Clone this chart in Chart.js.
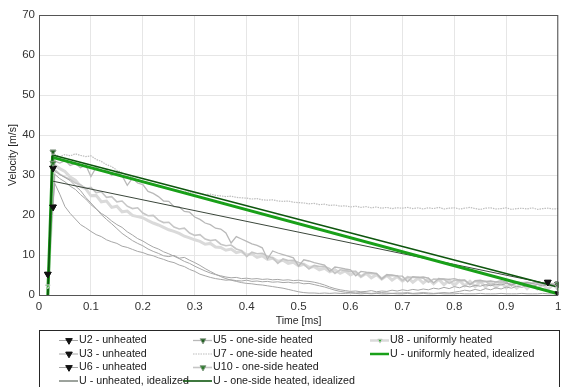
<!DOCTYPE html>
<html>
<head>
<meta charset="utf-8">
<script src="https://cdn.jsdelivr.net/npm/chart.js@4.4.0/dist/chart.umd.min.js"></script>
<style>
  html, body { margin: 0; padding: 0; background: #fff; }
  #wrap { width: 563px; height: 387px; position: relative; }
</style>
</head>
<body>
<div id="wrap"><canvas id="velChart"></canvas></div>
<script>
// === Datos ===
const TIME_MS = [
  0.03,0.04,0.05,0.06,0.07,0.08,0.09,0.10,0.11,0.12,
  0.13,0.14,0.15,0.16,0.17,0.18,0.19,0.20,0.21,0.22,
  0.23,0.24,0.25,0.26,0.27,0.28,0.29,0.30,0.31,0.32,
  0.33,0.34,0.35,0.36,0.37,0.38,0.39,0.40,0.41,0.42,
  0.43,0.44,0.45,0.46,0.47,0.48,0.49,0.50,0.51,0.52,
  0.53,0.54,0.55,0.56,0.57,0.58,0.59,0.60,0.61,0.62,
  0.63,0.64,0.65,0.66,0.67,0.68,0.69,0.70,0.71,0.72,
  0.73,0.74,0.75,0.76,0.77,0.78,0.79,0.80,0.81,0.82,
  0.83,0.84,0.85,0.86,0.87,0.88,0.89,0.90,0.91,0.92,
  0.93,0.94,0.95,0.96,0.97,0.98,0.99,1.00
];

// first sample (on the rise) for each measured run: [time, velocity]
const U2_START = [0.017, 5.2];
const U3_START = [0.027, 22.0];
const U6_START = [0.027, 31.7];
const U5_START = [0.027, 35.8];
const U10_START = [0.027, 33.0];
const U8_START = [0.017, 2.2];

const U2 = [
  28.0,25.2,22.1,20.4,19.0,17.6,16.8,15.9,15.1,14.6,
  13.8,13.3,12.9,12.2,11.9,11.4,10.9,10.6,10.1,9.8,
  9.3,8.9,8.4,8.1,7.5,7.1,6.4,5.9,5.2,4.8,
  4.4,4.1,3.9,3.7,3.8,3.6,3.5,3.7,3.4,3.5,
  3.3,3.4,3.2,3.3,3.1,3.2,3.0,3.1,2.8,2.9,
  2.6,2.3,2.0,1.6,1.2,0.9,0.7,0.6,0.5,0.6,
  0.5,0.4,0.5,0.6,0.5,0.4,0.5,0.5,0.6,0.4,
  0.5,0.6,0.5,0.4,0.5,0.6,0.5,0.7,0.9,1.2,
  1.0,1.4,1.1,1.6,1.3,1.8,1.5,2.0,1.7,2.2,
  1.9,2.4,2.1,2.6,2.3,2.5,2.6,2.7
];
const U3 = [
  30.2,29.1,28.3,27.2,26.4,25.1,24.0,22.6,21.5,20.4,
  19.6,18.5,17.6,16.9,15.8,15.0,14.1,13.5,12.7,12.0,
  11.5,10.8,10.3,9.7,9.1,8.4,7.9,7.2,6.6,6.0,
  5.5,5.1,4.8,4.5,4.3,4.4,4.1,4.2,4.0,4.1,
  3.9,4.0,3.8,3.9,3.7,3.8,3.6,3.7,3.5,3.4,
  3.2,2.9,2.5,2.0,1.6,1.3,1.1,0.9,1.0,0.8,
  0.9,1.1,0.8,1.0,0.9,1.2,1.0,1.3,1.1,1.4,
  1.2,1.5,1.3,1.7,1.5,1.9,1.6,2.1,1.8,2.3,
  2.0,2.4,2.2,2.6,2.3,2.7,2.5,2.9,2.6,3.0,
  2.8,3.1,2.9,3.2,3.0,3.2
];
const U6 = [
  31.0,30.1,29.4,28.6,27.3,26.1,24.4,23.0,21.6,20.1,
  18.9,17.8,16.6,15.4,14.5,13.6,12.9,12.3,11.5,10.9,
  10.4,9.8,9.6,9.9,9.2,9.4,8.7,8.1,7.4,6.6,
  5.9,5.2,4.6,4.1,3.7,3.4,3.1,2.9,2.8,2.6,
  2.5,2.3,2.1,1.9,1.7,1.4,1.1,0.8,0.6,0.5,
  0.5,0.4,0.5,0.4,0.5,0.4,0.4,0.5,0.4,0.3,
  0.4,0.3,0.4,0.3,0.3,0.4,0.3,0.3,0.4,0.3,
  0.3,0.4,0.3,0.3,0.4,0.3,0.3,0.3,0.4,0.3,
  0.3,0.3,0.4,0.3,0.3,0.3,0.4,0.3,0.3,0.3,
  0.4,0.3,0.3,0.3,0.4,0.3,0.3,0.3
];
const U5 = [
  33.5,33.0,33.6,32.4,32.9,31.8,32.5,29.6,31.9,31.0,
  31.3,29.9,30.6,29.8,27.4,29.2,28.0,27.6,25.9,25.4,
  24.6,23.5,23.4,22.1,22.0,20.9,20.7,19.5,18.9,18.0,
  17.6,16.7,16.5,15.5,13.0,14.6,14.0,13.4,12.8,12.4,
  11.8,9.0,11.0,10.5,10.1,9.7,9.3,7.2,8.8,8.5,
  8.1,7.8,7.5,5.9,7.0,6.8,6.5,6.3,4.8,5.9,
  5.7,5.6,5.4,4.0,5.1,5.0,4.8,4.7,3.3,4.6,
  4.4,4.5,4.2,3.0,4.1,4.0,3.9,4.1,3.7,3.8,
  2.6,3.6,3.7,3.4,3.5,3.3,3.6,3.2,2.3,3.3,
  3.1,3.2,2.9,3.1,2.8,3.0,2.7,2.8
];
const U7 = [
  35.2,34.6,35.1,34.8,35.3,34.9,34.6,34.8,33.9,33.4,
  32.6,32.1,31.2,30.6,29.9,29.4,28.7,28.3,27.8,27.6,
  27.1,26.9,26.5,26.3,26.1,25.8,25.7,25.5,25.4,25.1,
  25.2,24.9,24.8,24.6,24.7,24.4,24.3,24.2,24.0,24.1,
  23.8,23.7,23.8,23.5,23.4,23.5,23.2,23.1,23.0,22.8,
  22.9,22.6,22.7,22.4,22.5,22.2,22.3,22.0,22.2,21.9,
  22.1,21.8,22.0,21.7,21.9,21.6,21.8,21.7,21.9,21.6,
  21.8,21.5,21.8,21.6,21.9,21.5,21.7,21.8,21.5,21.7,
  21.9,21.6,21.4,21.7,21.8,21.5,21.6,21.8,21.4,21.6,
  21.7,21.5,21.8,21.4,21.6,21.7,21.5,21.6
];
const U10 = [
  31.4,30.2,29.5,28.9,28.0,27.6,26.6,26.9,25.6,25.8,
  24.4,24.6,23.3,23.5,22.2,21.6,21.8,20.5,19.8,19.9,
  18.7,18.1,18.2,17.0,16.5,16.7,15.5,14.9,15.1,14.0,
  13.6,13.8,12.7,12.3,12.5,11.5,11.1,9.6,10.7,10.3,
  10.4,9.7,9.3,7.9,9.0,8.6,8.7,8.1,7.7,6.5,
  7.4,7.1,7.2,6.6,5.4,6.3,6.1,5.9,5.9,4.6,
  5.5,5.3,5.3,4.0,4.9,4.8,4.8,3.6,4.5,4.4,
  4.4,4.2,3.2,4.0,3.9,3.9,2.9,3.7,3.6,3.6,
  2.6,3.4,3.3,3.4,2.5,3.2,3.1,3.2,2.3,3.0,
  2.9,3.0,2.2,2.8,2.7,2.8,2.6,2.7
];
const U8 = [
  32.5,31.6,30.9,29.5,28.7,27.2,26.6,24.8,24.9,23.3,
  23.5,21.9,22.2,20.8,21.0,19.9,19.6,19.3,18.6,18.0,
  17.5,16.9,16.3,15.9,15.4,14.7,14.3,13.8,13.4,12.7,
  12.9,12.0,11.9,11.2,11.5,10.6,10.9,10.0,10.3,9.4,
  9.8,8.9,9.2,8.4,8.7,7.9,8.2,7.3,7.7,6.9,
  7.1,6.3,6.7,5.8,6.3,5.4,6.0,5.0,5.7,4.6,
  5.4,4.3,5.1,4.0,4.9,3.7,4.6,3.5,4.4,3.2,
  4.2,3.0,4.0,2.8,3.9,2.6,3.7,2.4,3.6,2.3,
  3.4,2.1,3.3,2.0,3.2,1.9,3.1,1.8,3.0,1.7,
  2.9,1.6,2.8,1.5,2.7,1.4,2.6,1.5
];

// idealized profiles: corner points
const IDEAL_UNH_T = [0.017, 0.025, 0.976];
const IDEAL_UNH_V = [0, 28.5, 2.9];
const IDEAL_ONE_T = [0.017, 0.026, 0.995];
const IDEAL_ONE_V = [0, 35.0, 2.1];
const IDEAL_UNI_T = [0.017, 0.026, 1.0];
const IDEAL_UNI_V = [0, 34.4, 0.3];

const X_MIN = 0, X_MAX = 1, X_STEP = 0.1;
const Y_MIN = 0, Y_MAX = 70, Y_STEP = 10;

// === Helpers ===
const FONT = '"Liberation Sans", Arial, sans-serif';
const pts = (ts, vs) => vs.map((v, i) => ({ x: ts[i], y: v }));
const run = (start, vs) => [{ x: start[0], y: start[1] }].concat(pts(TIME_MS, vs));
const endMarks = (r) => (c) => (c.dataIndex === 0 || c.dataIndex === c.dataset.data.length - 1) ? r : 0;

function measured(label, data, o) {
  return {
    label, data, order: o.order,
    borderColor: o.line, borderWidth: o.width, borderDash: o.dash || [],
    pointStyle: 'triangle', rotation: 180,
    pointRadius: o.marker ? endMarks(o.r) : 0,
    pointBackgroundColor: o.marker, pointBorderColor: o.mborder || o.marker,
    pointBorderWidth: 1, pointHoverRadius: 0,
    hasMarker: !!o.marker, markerR: o.r, tension: 0
  };
}
function ideal(label, data, color, width, order) {
  return { label, data, order, borderColor: color, borderWidth: width,
           pointRadius: 0, pointHoverRadius: 0, tension: 0 };
}

// legend order (column-major, 4 rows)
const datasets = [
  measured('U2 - unheated', run(U2_START, U2), { line: '#a6a6a6', width: 1, marker: '#111111', r: 3.8, order: 3 }),
  measured('U3 - unheated', run(U3_START, U3), { line: '#a6a6a6', width: 1, marker: '#111111', r: 3.8, order: 4 }),
  measured('U6 - unheated', run(U6_START, U6), { line: '#a6a6a6', width: 1, marker: '#111111', r: 3.8, order: 5 }),
  ideal('U - unheated, idealized', pts(IDEAL_UNH_T, IDEAL_UNH_V), '#3a463a', 1, 2),
  measured('U5 - one-side heated', run(U5_START, U5), { line: '#b9b9b9', width: 1.3, marker: '#1f5f1f', mborder: '#8f9f8f', r: 3.4, order: 6 }),
  measured('U7 - one-side heated', pts(TIME_MS, U7), { line: '#bdbdbd', width: 1.2, dash: [1.5, 1], order: 8 }),
  measured('U10 - one-side heated', run(U10_START, U10), { line: '#c6c6c6', width: 1.6, marker: '#2b7a2b', mborder: '#7f9a7f', r: 3.4, order: 7 }),
  ideal('U - one-side heated, idealized', pts(IDEAL_ONE_T, IDEAL_ONE_V), '#0e560e', 1.6, 0),
  measured('U8 - uniformly heated', run(U8_START, U8), { line: '#dadada', width: 3, marker: '#37b337', mborder: '#cfcfcf', r: 2.6, order: 9 }),
  ideal('U - uniformly heated, idealized', pts(IDEAL_UNI_T, IDEAL_UNI_V), '#19a019', 3, 1)
];

// markers on top + box + legend
const boxAndLegend = {
  id: 'boxAndLegend',
  afterDatasetsDraw(chart) {
    const { ctx, chartArea: a } = chart;
    ctx.save();
    ctx.beginPath();
    ctx.rect(a.left, a.top, a.right - a.left, a.bottom - a.top);
    ctx.clip();
    chart.data.datasets.forEach((ds, i) => {
      if (!ds.hasMarker) return;
      chart.getDatasetMeta(i).data.forEach(p => p.draw(ctx, a));
    });
    ctx.restore();
    ctx.save();
    ctx.strokeStyle = '#555';
    ctx.lineWidth = 1;
    ctx.strokeRect(a.left + 0.5, a.top + 0.5, a.right - a.left - 1, a.bottom - a.top);
    ctx.restore();
  },
  afterDraw(chart) {
    const ctx = chart.ctx;
    const rowsY = [340.5, 354, 367.5, 381];
    const colX = [59, 193, 370];
    ctx.save();
    ctx.fillStyle = '#fff';
    ctx.fillRect(39, 330.5, 520, 70);
    ctx.strokeStyle = '#262626';
    ctx.lineWidth = 1;
    ctx.strokeRect(39.5, 330.5, 520, 70);
    ctx.font = '10.7px ' + FONT;
    ctx.textBaseline = 'middle';
    chart.data.datasets.forEach((ds, k) => {
      const col = Math.floor(k / 4), row = k % 4;
      const y = rowsY[row];
      const x0 = (col === 1 && row === 3) ? 183 : colX[col];
      const x1 = colX[col] + 19;
      ctx.strokeStyle = ds.borderColor;
      ctx.lineWidth = Math.min(ds.borderWidth, 2.5);
      ctx.setLineDash(ds.borderDash || []);
      ctx.beginPath(); ctx.moveTo(x0, y); ctx.lineTo(x1, y); ctx.stroke();
      ctx.setLineDash([]);
      if (ds.hasMarker) {
        ctx.fillStyle = ds.pointBackgroundColor;
        ctx.strokeStyle = ds.pointBorderColor;
        ctx.lineWidth = 1;
        Chart.helpers.drawPoint(ctx, { pointStyle: 'triangle', rotation: 180, radius: ds.markerR, borderWidth: 1 }, colX[col] + 10, y);
      }
      ctx.fillStyle = '#1a1a1a';
      ctx.fillText(ds.label, x1 + 1, y);
    });
    ctx.restore();
  }
};

new Chart(document.getElementById('velChart'), {
  type: 'line',
  data: { datasets },
  options: {
    responsive: true,
    maintainAspectRatio: false,
    animation: false,
    devicePixelRatio: 1,
    events: [],
    layout: { padding: { top: 15, right: 2, bottom: 56, left: 0 } },
    plugins: { legend: { display: false }, tooltip: { enabled: false } },
    scales: {
      x: {
        type: 'linear', min: X_MIN, max: X_MAX,
        grid: { color: '#e6e6e6', drawTicks: false },
        border: { display: false },
        ticks: { stepSize: X_STEP, autoSkip: false, maxRotation: 0, padding: 5,
                 color: '#333', font: { family: FONT, size: 11.5 },
                 callback: (v) => String(Math.round(v * 10) / 10) },
        title: { display: true, text: 'Time [ms]', color: '#262626',
                 font: { family: FONT, size: 10.5 }, padding: { top: 0, bottom: 4 } },
        afterFit: (s) => { s.height = 36; s.paddingLeft = 0; s.paddingRight = 0; }
      },
      y: {
        min: Y_MIN, max: Y_MAX,
        grid: { color: '#e6e6e6', drawTicks: false },
        border: { display: false },
        ticks: { stepSize: Y_STEP, padding: 4, color: '#333', font: { family: FONT, size: 11.5 } },
        title: { display: true, text: 'Velocity [m/s]', color: '#262626',
                 font: { family: FONT, size: 10.5 }, padding: { top: 7, bottom: 0 } },
        afterFit: (s) => { s.width = 39; }
      }
    }
  },
  plugins: [boxAndLegend]
});
</script>
</body>
</html>
